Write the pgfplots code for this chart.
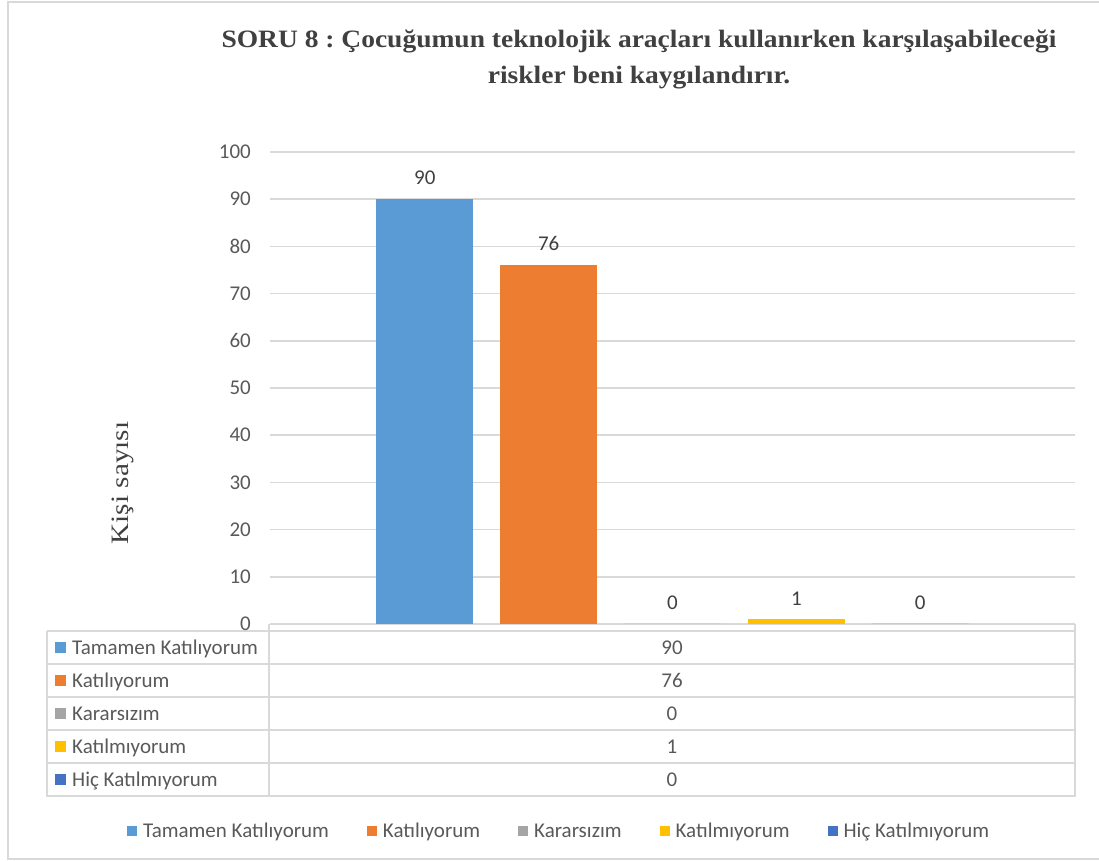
\documentclass[border=0pt]{standalone}
\usepackage{fontspec}
\setmainfont{Carlito}
\newfontfamily\serif{Liberation Serif}
\usepackage{pgfplots}
\pgfplotsset{compat=1.18}
\frenchspacing
\definecolor{c1}{HTML}{5B9BD5}
\definecolor{c2}{HTML}{ED7D31}
\definecolor{c3}{HTML}{A5A5A5}
\definecolor{c4}{HTML}{FFC000}
\definecolor{c5}{HTML}{4472C4}
\definecolor{gridc}{HTML}{D9D9D9}
\definecolor{txt}{HTML}{595959}
\definecolor{ttl}{HTML}{404040}
\newcommand\fs{\fontsize{21}{25}\selectfont}
\begin{document}
\begin{tikzpicture}
\path[use as bounding box] (0pt,0pt) rectangle (1099pt,861pt);
\draw[gridc, line width=2pt] (1102pt,2pt) -- (8pt,2pt) -- (8pt,859pt) -- (1102pt,859pt);
% title
\node[ttl, font=\serif\bfseries\fontsize{25}{30}\selectfont, anchor=base] at (639pt,813pt) {\scalebox{1.1}[1]{SORU 8 : Çocuğumun teknolojik araçları kullanırken karşılaşabileceği}};
\node[ttl, font=\serif\bfseries\fontsize{25}{30}\selectfont, anchor=base] at (639pt,777pt) {\scalebox{1.1}[1]{riskler beni kaygılandırır.}};
% y label
\node[ttl, font=\serif\fontsize{25}{30}\selectfont, rotate=90, anchor=base] at (128pt,378pt) {\scalebox{1.17}[1]{Kişi sayısı}};
% data table
\draw[gridc, line width=1.5pt] (47pt,230pt) -- (1075pt,230pt);
\draw[gridc, line width=1.5pt] (47pt,230pt) -- (47pt,65pt) -- (1075pt,65pt) -- (1075pt,237pt);
\draw[gridc, line width=1.5pt] (269pt,237pt) -- (269pt,65pt);
\foreach \yy in {197,164,131,98} {\draw[gridc, line width=1.5pt] (47pt,\yy pt) -- (1075pt,\yy pt);}
\foreach \yc/\col/\lab/\val in {213.5/c1/Tamamen Katılıyorum/90, 180.5/c2/Katılıyorum/76, 147.5/c3/Kararsızım/0, 114.5/c4/Katılmıyorum/1, 81.5/c5/Hiç Katılmıyorum/0} {
  \fill[\col] (55pt,\yc pt-5.5pt) rectangle (66pt,\yc pt+5.5pt);
  \node[txt, font=\fs, anchor=base west, inner sep=0pt] at (72pt,\yc pt-6.8pt) {\lab};
  \node[txt, font=\fs, anchor=base, inner sep=0pt] at (672pt,\yc pt-6.8pt) {\val};
}
\begin{axis}[
  at={(270pt,237pt)}, anchor=south west, scale only axis,
  width=805pt, height=472pt,
  xmin=-0.25, xmax=6.25, ymin=0, ymax=100,
  ytick={0,10,...,100}, xtick=\empty,
  ymajorgrids, grid style={gridc, line width=1.5pt},
  axis line style={draw=none},
  major tick length=0pt, tick style={draw=none},
  /pgf/number format/assume math mode=true,
  yticklabel style={font=\fs, color=txt, anchor=east, inner sep=0pt, xshift=-19pt},
  ybar, bar width=97pt,
  clip=false,
  nodes near coords,
  every node near coord/.style={font=\fs, color=ttl, anchor=south, inner sep=0pt, yshift=14pt},
  legend columns=5,
  legend style={at={(-0.1776,-0.4386)}, anchor=west, draw=none, fill=none, font=\fs, text=txt, inner sep=0pt, nodes={inner sep=0pt},
    /tikz/every odd column/.append style={column sep=6pt},
    /tikz/every even column/.append style={column sep=38pt}},
]
\addplot[fill=c1, draw=none, bar shift=0pt, legend image code/.code={\fill[c1] (0pt,-5pt) rectangle (10pt,5pt);}] coordinates {(1,90)};
\addplot[fill=c2, draw=none, bar shift=0pt, legend image code/.code={\fill[c2] (0pt,-5pt) rectangle (10pt,5pt);}] coordinates {(2,76)};
\addplot[fill=c3, draw=none, bar shift=0pt, legend image code/.code={\fill[c3] (0pt,-5pt) rectangle (10pt,5pt);}] coordinates {(3,0)};
\addplot[fill=c4, draw=none, bar shift=0pt, legend image code/.code={\fill[c4] (0pt,-5pt) rectangle (10pt,5pt);}] coordinates {(4,1)};
\addplot[fill=c5, draw=none, bar shift=0pt, legend image code/.code={\fill[c5] (0pt,-5pt) rectangle (10pt,5pt);}] coordinates {(5,0)};
\legend{Tamamen Katılıyorum, Katılıyorum, Kararsızım, Katılmıyorum, Hiç Katılmıyorum}
\end{axis}
\end{tikzpicture}
\end{document}
